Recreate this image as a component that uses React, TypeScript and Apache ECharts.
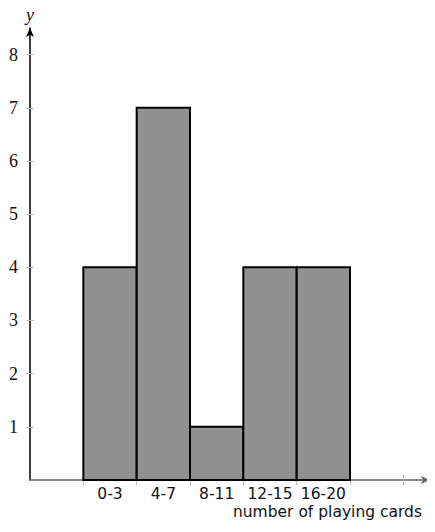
import React, { useEffect, useRef } from "react";
import * as echarts from "echarts";

const categories = ["0-3", "4-7", "8-11", "12-15", "16-20"];
const binStarts = [1, 2, 3, 4, 5];
const binEnds = [2, 3, 4, 5, 6];
const counts = [4, 7, 1, 4, 4];
const yTicks = [1, 2, 3, 4, 5, 6, 7, 8];
const xTicks = [1, 2, 3, 4, 5, 6, 7];

export default function App() {
  const ref = useRef<HTMLDivElement>(null);
  useEffect(() => {
    if (!ref.current) return;
    const chart = echarts.init(ref.current, null, { renderer: "svg" });
    const centers = binStarts.map((s, i) => (s + binEnds[i]) / 2);
    const labelFor = (v: number) => {
      const i = centers.findIndex((c) => Math.abs(c - v) < 1e-6);
      return i >= 0 ? categories[i] : "";
    };
    const data = counts.map((c, i) => [binStarts[i], binEnds[i], c]);
    const grid = { left: 30, right: 5, top: 28, bottom: 52 };
    chart.setOption({
      animation: false,
      grid,
      xAxis: [
        {
          type: "value",
          min: 0,
          max: 7.5,
          interval: 1,
          splitLine: { show: false },
          axisLine: {
            show: true,
            symbol: ["none", "arrow"],
            symbolSize: [6, 9],
            lineStyle: { color: "#666", width: 1.5 },
          },
          axisTick: {
            show: true,
            inside: false,
            length: 5,
            customValues: xTicks,
            lineStyle: { color: "#bbb", width: 1 },
          },
          axisLabel: {
            show: true,
            customValues: centers,
            formatter: (v: number) => labelFor(v),
            fontFamily: "DejaVu Sans",
            fontSize: 15.5,
            color: "#111",
            margin: 6,
          },
        },
        {
          type: "value",
          position: "bottom",
          min: 0,
          max: 7.5,
          interval: 1,
          splitLine: { show: false },
          axisLine: { show: false },
          axisTick: {
            show: true,
            inside: true,
            length: 5,
            customValues: xTicks,
            lineStyle: { color: "#bbb", width: 1 },
          },
          axisLabel: { show: false },
        },
      ],
      yAxis: [
        {
          type: "value",
          min: 0,
          max: 8.5,
          interval: 1,
          splitLine: { show: false },
          name: "y",
          nameLocation: "end",
          nameGap: 4,
          nameTextStyle: {
            fontFamily: "Liberation Serif",
            fontStyle: "italic",
            fontSize: 18,
            color: "#111",
          },
          axisLine: {
            show: true,
            symbol: ["none", "arrow"],
            symbolSize: [6, 9],
            lineStyle: { color: "#000", width: 1.5 },
          },
          axisTick: {
            show: true,
            inside: false,
            length: 4,
            customValues: yTicks,
            lineStyle: { color: "#bbb", width: 1 },
          },
          axisLabel: {
            show: true,
            customValues: yTicks,
            fontFamily: "Liberation Serif",
            fontSize: 18,
            color: "#111",
            margin: 12,
          },
        },
        {
          type: "value",
          position: "left",
          min: 0,
          max: 8.5,
          interval: 1,
          splitLine: { show: false },
          axisLine: { show: false },
          axisTick: {
            show: true,
            inside: true,
            length: 4,
            customValues: yTicks,
            lineStyle: { color: "#bbb", width: 1 },
          },
          axisLabel: { show: false },
        },
      ],
      series: [
        {
          type: "custom",
          xAxisIndex: 0,
          yAxisIndex: 0,
          data,
          renderItem: (params: any, api: any) => {
            const s = api.value(0);
            const e = api.value(1);
            const v = api.value(2);
            const p0 = api.coord([s, v]);
            const p1 = api.coord([e, 0]);
            return {
              type: "rect",
              shape: { x: p0[0], y: p0[1], width: p1[0] - p0[0], height: p1[1] - p0[1] },
              style: { fill: "#919191", stroke: "#000", lineWidth: 2 },
            };
          },
        },
      ],
      graphic: [
        {
          type: "text",
          right: 13,
          top: 504,
          style: {
            text: "number of playing cards",
            fontFamily: "DejaVu Sans",
            fontSize: 15.5,
            fill: "#111",
          },
        },
      ],
    });
    return () => chart.dispose();
  }, []);
  return <div ref={ref} style={{ width: 435, height: 532, margin: -8 }} />;
}
